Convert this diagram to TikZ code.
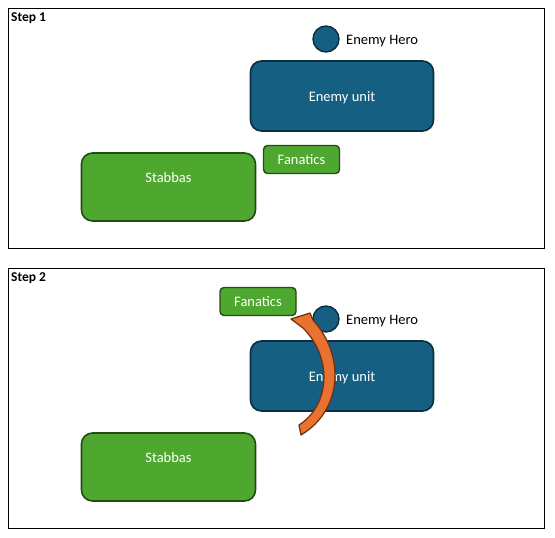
\documentclass[tikz,border=0pt]{standalone}
\usepackage{fontspec}
\setmainfont{Carlito}
\definecolor{ublue}{HTML}{156082}
\definecolor{ubluedark}{HTML}{0C2F3F}
\definecolor{ugreen}{HTML}{4EA72E}
\definecolor{ugreendark}{HTML}{234D14}
\definecolor{uorange}{HTML}{E97132}
\definecolor{uorangedark}{HTML}{6B300C}
\begin{document}
\begin{tikzpicture}[x=1pt,y=-1pt,
  frame/.style={draw=black,line width=0.8pt},
  steplabel/.style={anchor=north west,inner sep=0pt,font=\fontsize{13.5}{15}\selectfont\bfseries},
  enemybox/.style={draw=ubluedark,fill=ublue,line width=1.6pt,rounded corners=11pt,minimum width=183pt,minimum height=70pt,text=white,font=\fontsize{14.5}{16}\selectfont,inner sep=0pt,text height=11pt,text depth=0pt},
  herocircle/.style={circle,draw=ubluedark,fill=ublue,line width=1.4pt,minimum size=26pt,inner sep=0pt},
  herolabel/.style={anchor=west,inner sep=0pt,font=\fontsize{14.5}{16}\selectfont},
  fanbox/.style={draw=ugreendark,fill=ugreen,line width=1.4pt,rounded corners=4pt,minimum width=76pt,minimum height=28pt,text=white,font=\fontsize{14.5}{16}\selectfont,inner sep=0pt,text height=10pt,text depth=0pt},
  stabbox/.style={draw=ugreendark,fill=ugreen,line width=1.6pt,rounded corners=11pt,minimum width=174pt,minimum height=68pt,text=white,font=\fontsize{14.5}{16}\selectfont,inner sep=0pt,text height=8pt,text depth=17pt},
  bentarrow/.style={draw=uorangedark,fill=uorange,line width=1.2pt,line join=round}
]
\useasboundingbox (0,0) rectangle (555,538);
% Step 1
\draw[frame] (8.5,8.5) rectangle (544.5,248.5);
\node[steplabel] (s1) at (11,12) {Step 1};
\node[herocircle] (hero1) at (326,39) {};
\node[herolabel] (herolab1) at (346,41) {Enemy Hero};
\node[enemybox] (enemy1) at (342,96) {Enemy unit};
\node[fanbox] (fan1) at (301.5,159.5) {Fanatics};
\node[stabbox] (stab1) at (168.5,187) {Stabbas};
% Step 2
\draw[frame] (8.5,268.5) rectangle (544.5,528.5);
\node[steplabel] (s2) at (11,272) {Step 2};
\node[herocircle] (hero2) at (326,319) {};
\node[herolabel] (herolab2) at (346,321) {Enemy Hero};
\node[enemybox] (enemy2) at (342,376) {Enemy unit};
\node[stabbox] (stab2) at (168.5,467) {Stabbas};
\node[fanbox] (fan2) at (258,301.5) {Fanatics};
% curved arrow
\draw[bentarrow] (291,319) -- (310,313) -- (313,320)
  .. controls (345,355) and (343,410) .. (301,435)
  -- (299,425)
  .. controls (330,405) and (333,358) .. (303,328)
  -- cycle;
\end{tikzpicture}
\end{document}
